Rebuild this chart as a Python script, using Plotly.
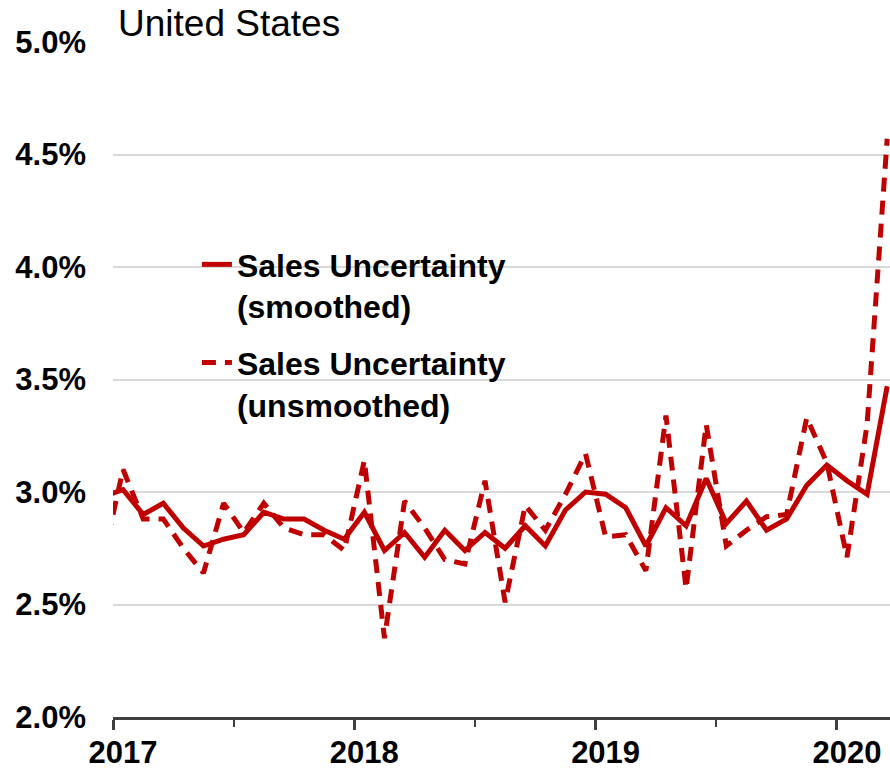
import plotly.graph_objects as go
import pandas as pd

# Monthly observations (Dec 2016 - Mar 2020), values in percent
months = pd.period_range("2016-12", "2020-03", freq="M")

smoothed = [2.98, 3.01, 2.90, 2.95, 2.84, 2.76, 2.79, 2.81, 2.91, 2.88, 2.88, 2.83, 2.79,
            2.91, 2.74, 2.82, 2.71, 2.83, 2.74, 2.82, 2.75, 2.85, 2.76, 2.92, 3.00,
            2.99, 2.93, 2.76, 2.93, 2.85, 3.06, 2.86, 2.96, 2.83, 2.88, 3.03, 3.12,
            3.05, 2.99, 3.47]

unsmoothed = [2.70, 3.10, 2.88, 2.88, 2.75, 2.64, 2.95, 2.82, 2.95, 2.84, 2.81, 2.81, 2.74,
              3.14, 2.35, 2.96, 2.84, 2.70, 2.68, 3.05, 2.51, 2.94, 2.83, 2.99, 3.17,
              2.80, 2.81, 2.65, 3.34, 2.57, 3.30, 2.76, 2.83, 2.89, 2.90, 3.33, 3.13,
              2.71, 3.30, 4.57]

year_ticks = [2017, 2018, 2019, 2020]
year_labels = ["2017", "2018", "2019", "2020"]
y_ticks = [2.0, 2.5, 3.0, 3.5, 4.0, 4.5, 5.0]
y_labels = ["2.0%", "2.5%", "3.0%", "3.5%", "4.0%", "4.5%", "5.0%"]

# mid-month position in decimal years
x = [p.year + (p.month - 0.5) / 12 for p in months]

RED = "#C00000"
FONT = "Arial, Liberation Sans, sans-serif"

W, H = 890, 771

fig = go.Figure()
fig.add_trace(go.Scatter(
    x=x, y=smoothed, mode="lines", name="Sales Uncertainty<br>(smoothed)",
    line=dict(color=RED, width=5), legendgroup="a"))
fig.add_trace(go.Scatter(
    x=x, y=unsmoothed, mode="lines", name="Sales Uncertainty<br>(unsmoothed)",
    line=dict(color=RED, width=5, dash="14px,9px"), legendgroup="b"))

fig.update_layout(
    width=W, height=H,
    margin=dict(l=113, r=0, t=42, b=54, autoexpand=False),
    paper_bgcolor="white", plot_bgcolor="white",
    font=dict(family=FONT, color="black"),
    title=dict(text="United States", x=118 / W, xanchor="left", xref="container",
               y=(H - 23) / H, yanchor="middle", yref="container",
               font=dict(size=37, family=FONT, color="black")),
    showlegend=True,
    legend=dict(x=0.108, y=0.711, xanchor="left", yanchor="top",
                font=dict(size=32, family=FONT, color="black", weight="bold"),
                bgcolor="rgba(0,0,0,0)", valign="top", tracegroupgap=12,
                itemwidth=30),
    xaxis=dict(range=[2017, 2020.22], tickvals=year_ticks, ticktext=year_labels,
               ticks="outside", ticklen=10, tickwidth=2.5, tickcolor="#404040",
               showline=True, linecolor="#404040", linewidth=3,
               showgrid=False, zeroline=False, ticklabelshift=10,
               ticklabelstandoff=-4, automargin=False,
               tickfont=dict(size=31, family=FONT, color="black", weight="bold"),
               minor=dict(tick0=2017, dtick=0.5, ticks="outside", ticklen=7,
                          tickwidth=2, tickcolor="#404040", showgrid=False)),
    yaxis=dict(range=[2.0, 5.0], tickvals=y_ticks, ticktext=y_labels,
               ticks="", showline=False, zeroline=False,
               showgrid=True, gridcolor="#D9D9D9", gridwidth=2,
               ticklabelstandoff=26, automargin=False,
               tickfont=dict(size=31, family=FONT, color="black", weight="bold")),
)

# remove the default page margin so the figure fills the window exactly
fig.write_html(
    "out.html",
    config={"displayModeBar": False},
    post_script="document.body.style.margin='0';"
                "document.documentElement.style.overflow='hidden';",
)
